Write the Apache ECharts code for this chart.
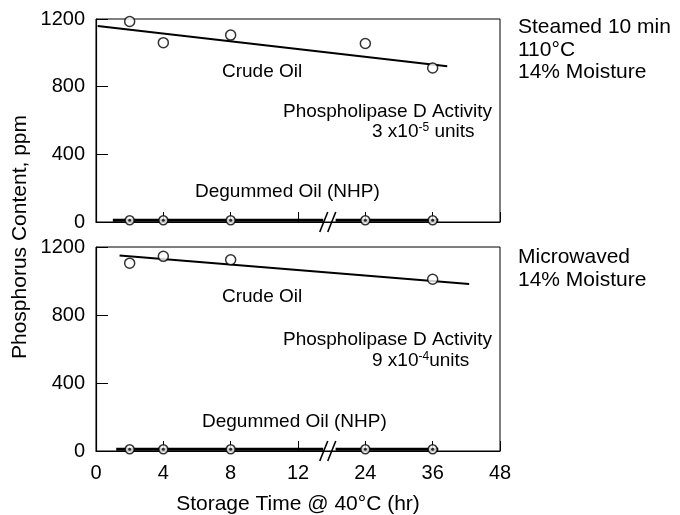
<!DOCTYPE html>
<html>
<head>
<meta charset="utf-8">
<script src="https://cdn.jsdelivr.net/npm/echarts@6/dist/echarts.min.js"></script>
<style>
  html, body { margin: 0; padding: 0; background: #fff; }
  #chart { width: 680px; height: 515px; }
</style>
</head>
<body>
<div id="chart"></div>
<script>
// tick labels of the broken time axis (equally spaced)
const timeTicks = [0, 4, 8, 12, 24, 36, 48];
const yTicks = [0, 400, 800, 1200];

// steamed 10 min, 110 C, 14% moisture
const steamedHours = [2, 4, 8, 24, 36];
const steamedCrude = [1185, 1060, 1105, 1055, 910];
const steamedFitHours = [0.1, 38.6];
const steamedFit = [1158, 920];
const steamedDegummed = [10, 10, 10, 10, 10];
const steamedDegLineHours = [1, 16.5, null, 18.7, 37];

// microwaved, 14% moisture
const microHours = [2, 4, 8, 36];
const microCrude = [1105, 1145, 1125, 1010];
const microFitHours = [1.4, 42.5];
const microFit = [1150, 982];
const microDegHours = [2, 4, 8, 24, 36];
const microDegummed = [10, 10, 10, 10, 10];
const microDegLineHours = [1.2, 16.5, null, 18.7, 37];

const breakHour = 17.3;

// hours -> position on the broken axis (0-12 h in 4 h steps, then 12 h steps)
function pos(h) {
  return h <= 12 ? h / 4 : 3 + (h - 12) / 12;
}

const FONT = 'Liberation Sans, Arial, Helvetica, sans-serif';
const chart = echarts.init(document.getElementById('chart'));

function pairs(xs, ys) {
  return xs.map((h, i) => [pos(h), ys[i]]);
}
function degLine(hrs) {
  return hrs.map(h => h === null ? [3.47, '-'] : [pos(h), 10]);
}

function breakMark(gridIndex) {
  return {
    type: 'custom',
    xAxisIndex: gridIndex,
    yAxisIndex: gridIndex,
    z: 10,
    data: [[pos(breakHour), 0]],
    renderItem: (params, api) => {
      const c = api.coord([api.value(0), api.value(1)]);
      const mk = dx => ({
        type: 'line',
        shape: { x1: c[0] + dx - 4, y1: c[1] + 10, x2: c[0] + dx + 4, y2: c[1] - 10 },
        style: { stroke: '#000', lineWidth: 1.6 }
      });
      return { type: 'group', children: [mk(-4), mk(4)] };
    }
  };
}

function panelSeries(g, crudeX, crudeY, fitX, fitY, degX, degY, degLineHrs) {
  return [
    {
      type: 'line', xAxisIndex: g, yAxisIndex: g, showSymbol: false, silent: true,
      data: pairs(fitX, fitY), lineStyle: { color: '#000', width: 2 }, z: 2
    },
    {
      type: 'scatter', xAxisIndex: g, yAxisIndex: g, symbol: 'circle', symbolSize: 10,
      data: pairs(crudeX, crudeY),
      itemStyle: { color: '#fff', borderColor: '#000', borderWidth: 1.5 }, z: 5
    },
    {
      type: 'line', xAxisIndex: g, yAxisIndex: g, showSymbol: false, silent: true,
      connectNulls: false, data: degLine(degLineHrs),
      lineStyle: { color: '#000', width: 3 }, z: 2
    },
    {
      type: 'scatter', xAxisIndex: g, yAxisIndex: g, symbol: 'circle', symbolSize: 9,
      data: pairs(degX, degY),
      itemStyle: { color: '#fff', borderColor: '#000', borderWidth: 1.5 }, z: 5
    },
    {
      type: 'scatter', xAxisIndex: g, yAxisIndex: g, symbol: 'circle', symbolSize: 3,
      data: pairs(degX, degY), itemStyle: { color: '#000' }, z: 6
    },
    breakMark(g)
  ];
}

function xAxis(g, showLabels) {
  return {
    type: 'value', gridIndex: g, min: 0, max: 6, interval: 1,
    axisLine: { show: true, lineStyle: { color: '#000', width: 1.2 } },
    axisTick: { show: true, inside: true, length: 10, lineStyle: { color: '#000', width: 1 } },
    splitLine: { show: false },
    axisLabel: {
      show: showLabels, color: '#000', fontFamily: FONT, fontSize: 20, margin: 12,
      formatter: v => String(timeTicks[Math.round(v)])
    },
    name: showLabels ? 'Storage Time @ 40°C (hr)' : '',
    nameLocation: 'middle', nameGap: 43,
    nameTextStyle: { color: '#000', fontFamily: FONT, fontSize: 21 }
  };
}

function yAxis(g) {
  return {
    type: 'value', gridIndex: g, min: yTicks[0], max: yTicks[yTicks.length - 1], interval: 400,
    axisLine: { show: true, lineStyle: { color: '#000', width: 1.2 } },
    axisTick: { show: true, inside: true, length: 12, lineStyle: { color: '#000', width: 1 } },
    splitLine: { show: false },
    axisLabel: {
      color: '#000', fontFamily: FONT, fontSize: 20, margin: 11,
      formatter: v => String(v)
    }
  };
}

function txt(x, y, text, opts) {
  return {
    type: 'text', x: x, y: y,
    style: Object.assign({
      text: text, fill: '#000', font: '19px ' + FONT,
      textAlign: 'left', textVerticalAlign: 'middle'
    }, opts || {})
  };
}

const supRich = {
  a: { fontSize: 19, fontFamily: FONT, fill: '#000', verticalAlign: 'bottom' },
  s: { fontSize: 12, fontFamily: FONT, fill: '#000', verticalAlign: 'top' }
};

const option = {
  backgroundColor: '#fff',
  animation: false,
  grid: [
    { left: 96, top: 19, width: 404, height: 203, show: true, borderColor: '#000', borderWidth: 1,
      outerBoundsMode: 'none', containLabel: false },
    { left: 96, top: 247, width: 404, height: 204, show: true, borderColor: '#000', borderWidth: 1,
      outerBoundsMode: 'none', containLabel: false }
  ],
  xAxis: [xAxis(0, false), xAxis(1, true)],
  yAxis: [yAxis(0), yAxis(1)],
  series: [].concat(
    panelSeries(0, steamedHours, steamedCrude, steamedFitHours, steamedFit,
      steamedHours, steamedDegummed, steamedDegLineHours),
    panelSeries(1, microHours, microCrude, microFitHours, microFit,
      microDegHours, microDegummed, microDegLineHours)
  ),
  graphic: [
    // y axis title spanning both panels
    {
      type: 'text', x: 20, y: 237, rotation: Math.PI / 2,
      style: {
        text: 'Phosphorus Content, ppm', fill: '#000', font: '21px ' + FONT,
        textAlign: 'center', textVerticalAlign: 'middle'
      }
    },
    // top panel notes
    txt(222, 72, 'Crude Oil'),
    txt(283, 112, 'Phospholipase D Activity'),
    {
      type: 'text', x: 372, y: 122,
      style: { text: '{a|3 x10}{s|-5}{a| units}', rich: supRich, textVerticalAlign: 'top' }
    },
    txt(195, 192, 'Degummed Oil (NHP)'),
    txt(518, 27, 'Steamed 10 min', { font: '21px ' + FONT }),
    txt(518, 50, '110°C', { font: '21px ' + FONT }),
    txt(518, 72, '14% Moisture', { font: '21px ' + FONT }),
    // bottom panel notes
    txt(222, 297, 'Crude Oil'),
    txt(283, 340, 'Phospholipase D Activity'),
    {
      type: 'text', x: 372, y: 351,
      style: { text: '{a|9 x10}{s|-4}{a|units}', rich: supRich, textVerticalAlign: 'top' }
    },
    txt(202, 422, 'Degummed Oil (NHP)'),
    txt(518, 257, 'Microwaved', { font: '21px ' + FONT }),
    txt(518, 280, '14% Moisture', { font: '21px ' + FONT })
  ]
};

chart.setOption(option);
</script>
</body>
</html>
